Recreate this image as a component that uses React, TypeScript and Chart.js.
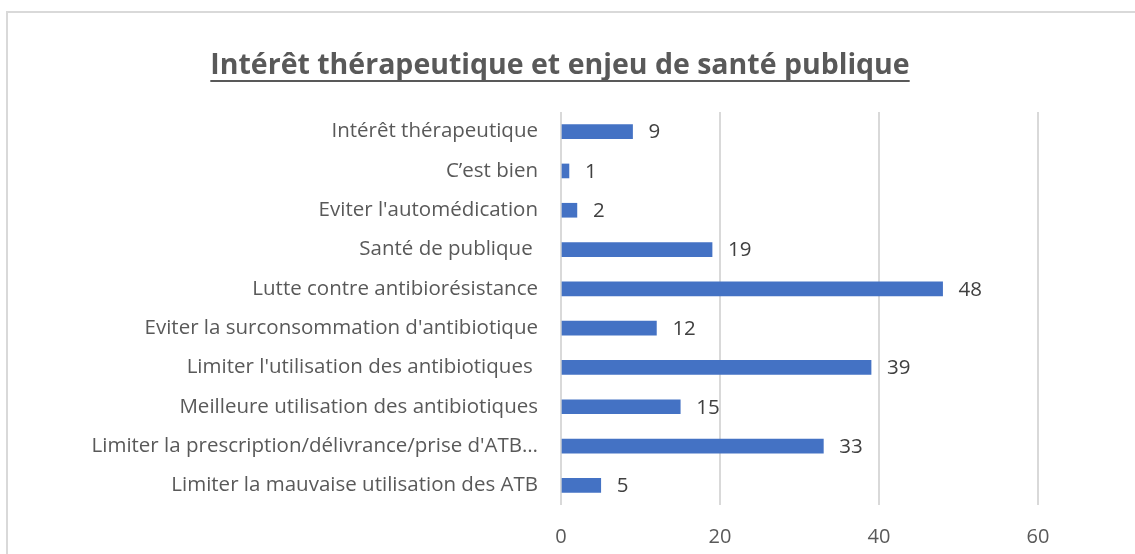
import React, { useEffect, useRef } from "react";
import { Chart, registerables } from "chart.js";

Chart.register(...registerables);

const categories: string[] = [
  "Intérêt thérapeutique",
  "C’est bien",
  "Eviter l'automédication",
  "Santé de publique ",
  "Lutte contre antibiorésistance",
  "Eviter la surconsommation d'antibiotique",
  "Limiter l'utilisation des antibiotiques ",
  "Meilleure utilisation des antibiotiques",
  "Limiter la prescription/délivrance/prise d'ATB…",
  "Limiter la mauvaise utilisation des ATB",
];

const values: number[] = [9, 1, 2, 19, 48, 12, 39, 15, 33, 5];

const xTicks: number[] = [0, 20, 40, 60];

const titleText = "Intérêt thérapeutique et enjeu de santé publique";

const FONT = "'Open Sans', 'Noto Sans', sans-serif";

const titlePlugin = {
  id: "underlinedTitle",
  afterDraw(chart: any) {
    const ctx = chart.ctx;
    ctx.save();
    ctx.font = `bold 28.5px ${FONT}`;
    ctx.fillStyle = "#595959";
    ctx.textAlign = "center";
    ctx.textBaseline = "middle";
    const cx = 560;
    const cy = 66;
    ctx.fillText(titleText, cx, cy);
    const w = ctx.measureText(titleText).width;
    ctx.strokeStyle = "#595959";
    ctx.lineWidth = 2;
    ctx.beginPath();
    ctx.moveTo(cx - w / 2, 81);
    ctx.lineTo(cx + w / 2, 81);
    ctx.stroke();
    ctx.restore();
  },
};

const valueLabelPlugin = {
  id: "valueLabels",
  afterDatasetsDraw(chart: any) {
    const ctx = chart.ctx;
    const meta = chart.getDatasetMeta(0);
    ctx.save();
    ctx.font = `20.5px ${FONT}`;
    ctx.fillStyle = "#404040";
    ctx.textAlign = "left";
    ctx.textBaseline = "middle";
    meta.data.forEach((bar: any, i: number) => {
      ctx.fillText(String(values[i]), bar.x + 16, bar.y + 1);
    });
    ctx.restore();
  },
};

export default function App() {
  const ref = useRef<HTMLCanvasElement | null>(null);

  useEffect(() => {
    if (!ref.current) return;
    const chart = new Chart(ref.current, {
      type: "bar",
      data: {
        labels: categories,
        datasets: [
          {
            data: values,
            backgroundColor: "#4472C4",
            barThickness: 14,
          },
        ],
      },
      options: {
        indexAxis: "y",
        animation: false,
        responsive: false,
        maintainAspectRatio: false,
        devicePixelRatio: 1,
        layout: { padding: { top: 112, right: 97, bottom: 0, left: 0 } },
        plugins: {
          legend: { display: false },
          title: { display: false },
          tooltip: { enabled: false },
        },
        scales: {
          x: {
            min: 0,
            max: 60,
            afterFit(scale: any) {
              scale.height = 49;
            },
            afterBuildTicks(scale: any) {
              scale.ticks = xTicks.map((v) => ({ value: v }));
            },
            grid: { color: "#d9d9d9", lineWidth: 2, drawTicks: false },
            border: { display: false },
            ticks: {
              padding: 20,
              color: "#595959",
              font: { family: FONT, size: 20 },
            },
          },
          y: {
            afterFit(scale: any) {
              scale.width = 561;
            },
            grid: { display: false, drawTicks: false },
            border: { display: false },
            ticks: {
              padding: 23,
              color: "#595959",
              font: { family: FONT, size: 20.5 },
              autoSkip: false,
            },
          },
        },
      },
      plugins: [titlePlugin, valueLabelPlugin],
    });
    return () => chart.destroy();
  }, []);

  return (
    <div style={{ position: "fixed", left: 0, top: 0, width: 1135, height: 554, background: "#fff", overflow: "hidden" }}>
      <div
        style={{
          position: "absolute",
          left: 6,
          top: 11,
          width: 1200,
          height: 600,
          borderLeft: "2px solid #d9d9d9",
          borderTop: "2px solid #d9d9d9",
        }}
      />
      <canvas ref={ref} width={1135} height={554} style={{ position: "absolute", left: 0, top: 0, width: 1135, height: 554 }} />
    </div>
  );
}
